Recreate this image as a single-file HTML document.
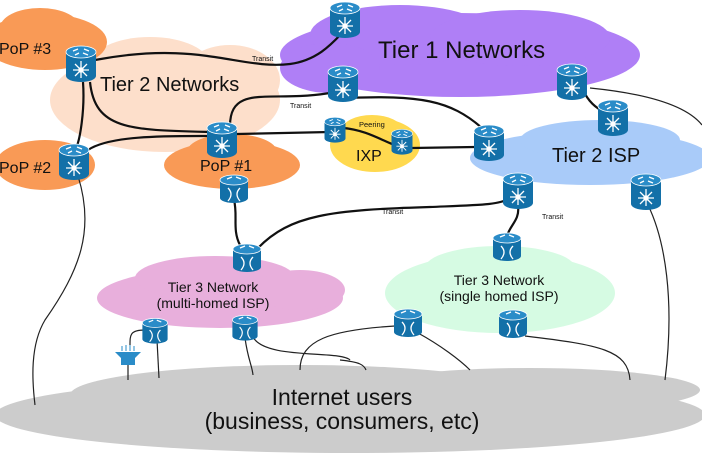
<!DOCTYPE html>
<html><head><meta charset="utf-8"><style>html,body{margin:0;padding:0;background:#fff}svg{display:block}text{font-family:"Liberation Sans",sans-serif;fill:#111}</style></head><body>
<svg width="702" height="459" viewBox="0 0 702 459" xmlns="http://www.w3.org/2000/svg">
<defs>
<g id="r"><path d="M-15,-12 v24 a15,6 0 0 0 30,0 v-24 z" fill="#1370a8"/><ellipse cx="0" cy="-12" rx="15" ry="6" fill="#2a8cc8" stroke="#fff" stroke-width="0.8"/>
<g stroke="#fff" stroke-width="1.3"><path d="M-8,-13 l5,-2 M3,-15 l5,2 M-6,-9 l4,-2 M2,-11 l5,2"/><path d="M0,6 l0,-9 M0,6 l0,8 M0,6 l-8,0 M0,6 l8,0 M0,6 l-6,-6 M0,6 l6,-6 M0,6 l-6,6 M0,6 l6,6"/></g><rect x="-2.5" y="3.5" width="5" height="5" fill="#fff"/></g>
<g id="s"><path d="M-14,-9 v18 a14,5 0 0 0 28,0 v-18 z" fill="#1370a8"/><ellipse cx="0" cy="-9" rx="14" ry="5" fill="#2a8cc8" stroke="#fff" stroke-width="0.8"/>
<g stroke="#fff" stroke-width="1.3" fill="none"><path d="M-7,-10 l5,-2 M2,-12 l5,2"/><path d="M-6,-1 q6,6 0,13 M6,-1 q-6,6 0,13"/></g></g>
</defs>
<!-- clouds -->
<g fill="#fddfcb"><ellipse cx="165" cy="100" rx="115" ry="52"/><ellipse cx="150" cy="65" rx="60" ry="28"/><ellipse cx="230" cy="80" rx="50" ry="35"/></g>
<g fill="#f99a56"><ellipse cx="45" cy="42" rx="62" ry="28"/><ellipse cx="40" cy="28" rx="40" ry="20"/><ellipse cx="45" cy="165" rx="50" ry="25"/><ellipse cx="232" cy="165" rx="68" ry="24"/><ellipse cx="232" cy="152" rx="45" ry="18"/></g>
<g fill="#af7ff6"><ellipse cx="460" cy="55" rx="180" ry="42"/><ellipse cx="400" cy="35" rx="90" ry="30"/><ellipse cx="520" cy="38" rx="90" ry="28"/><ellipse cx="330" cy="68" rx="50" ry="25"/></g>
<g fill="#ffd94f"><ellipse cx="375" cy="145" rx="45" ry="27"/><ellipse cx="372" cy="130" rx="30" ry="15"/></g>
<g fill="#a9cbf9"><ellipse cx="590" cy="158" rx="120" ry="27"/><ellipse cx="600" cy="140" rx="80" ry="20"/></g>
<g fill="#e8afdc"><ellipse cx="220" cy="298" rx="123" ry="30"/><ellipse cx="215" cy="278" rx="80" ry="22"/><ellipse cx="300" cy="290" rx="45" ry="20"/></g>
<g fill="#d6fbe3"><ellipse cx="500" cy="293" rx="115" ry="40"/><ellipse cx="500" cy="268" rx="75" ry="22"/></g>
<g fill="#cccccc"><ellipse cx="350" cy="415" rx="355" ry="38"/><ellipse cx="300" cy="395" rx="230" ry="30"/><ellipse cx="530" cy="390" rx="170" ry="22"/></g>
<!-- lines -->
<g fill="none" stroke="#111" stroke-width="2.2">
<path d="M95,60 C200,40 240,70 290,64 C320,60 335,40 345,30"/>
<path d="M83,82 C85,110 80,140 76,148"/>
<path d="M90,82 C95,130 130,130 210,132"/>
<path d="M88,150 C110,135 170,136 210,136"/>
<path d="M230,126 C230,90 260,98 300,96 C325,95 330,92 340,92"/>
<path d="M237,134 L330,132"/>
<path d="M345,98 C420,95 450,100 482,128"/>
<path d="M343,128 C370,130 390,146 402,147"/>
<path d="M412,148 L475,147"/>
<path d="M583,90 C590,105 600,110 605,112"/>
<path d="M234,200 C238,215 232,230 240,245"/>
<path d="M258,248 C290,215 330,210 430,207 C480,205 500,205 510,198"/>
<path d="M518,206 C520,220 510,225 507,236"/>
</g>
<g fill="none" stroke="#222" stroke-width="1.2">
<path d="M78,176 C95,230 80,270 45,320 C30,345 32,380 35,405"/>
<path d="M590,88 C660,95 690,110 702,125"/>
<path d="M648,205 C665,240 675,300 665,380"/>
<path d="M145,330 C130,330 130,335 130,345"/>
<path d="M128,365 L128,380"/>
<path d="M157,340 L159,378"/>
<path d="M245,338 C248,360 252,365 253,375"/>
<path d="M253,337 C265,360 340,350 350,360"/>
<path d="M395,326 C330,330 300,340 300,370"/>
<path d="M418,333 C440,345 460,360 470,370"/>
<path d="M525,336 C600,345 628,350 630,380"/>
<path d="M340,360 C360,362 364,365 366,370"/>
</g>
<!-- routers -->
<use href="#r" x="81" y="64"/><use href="#r" x="345" y="20"/><use href="#r" x="343" y="84"/><use href="#r" x="222" y="140"/><use href="#r" x="74" y="162"/>
<use href="#r" transform="translate(335,130) scale(0.7)"/><use href="#r" transform="translate(402,142) scale(0.7)"/>
<use href="#r" x="489" y="143"/><use href="#r" x="572" y="82"/><use href="#r" x="613" y="118"/><use href="#r" x="518" y="191"/><use href="#r" x="646" y="192"/>
<use href="#s" x="234" y="189"/><use href="#s" x="247" y="258"/><use href="#s" transform="translate(155,331) scale(0.9)"/><use href="#s" transform="translate(245,328) scale(0.9)"/>
<use href="#s" x="507" y="247"/><use href="#s" x="408" y="323"/><use href="#s" x="513" y="324"/>
<g fill="#2a8cc8"><path d="M115,352 h26 l-6,6 h-14 z"/><rect x="121" y="358" width="14" height="7"/></g>
<g stroke="#2a8cc8" stroke-width="1"><path d="M122,351 v-5 M126,351 v-6 M130,351 v-6 M134,351 v-5"/></g>
<!-- text -->
<text x="378" y="58" font-size="24">Tier 1 Networks</text>
<text x="100" y="91" font-size="20">Tier 2 Networks</text>
<text x="-1" y="54" font-size="16">PoP #3</text>
<text x="-1" y="173" font-size="16">PoP #2</text>
<text x="200" y="171" font-size="16">PoP #1</text>
<text x="356" y="161" font-size="16">IXP</text>
<text x="552" y="162" font-size="20">Tier 2 ISP</text>
<text x="359" y="127" font-size="7.5">Peering</text>
<text x="252" y="61" font-size="7">Transit</text>
<text x="290" y="108" font-size="7">Transit</text>
<text x="382" y="214" font-size="7">Transit</text>
<text x="542" y="219" font-size="7">Transit</text>
<text x="213" y="292" font-size="14" text-anchor="middle">Tier 3 Network</text>
<text x="213" y="308" font-size="14" text-anchor="middle">(multi-homed ISP)</text>
<text x="499" y="285" font-size="14" text-anchor="middle">Tier 3 Network</text>
<text x="499" y="301" font-size="14" text-anchor="middle">(single homed ISP)</text>
<text x="342" y="405" font-size="23" text-anchor="middle">Internet users</text>
<text x="342" y="429" font-size="23" text-anchor="middle">(business, consumers, etc)</text>
</svg>
</body></html>
